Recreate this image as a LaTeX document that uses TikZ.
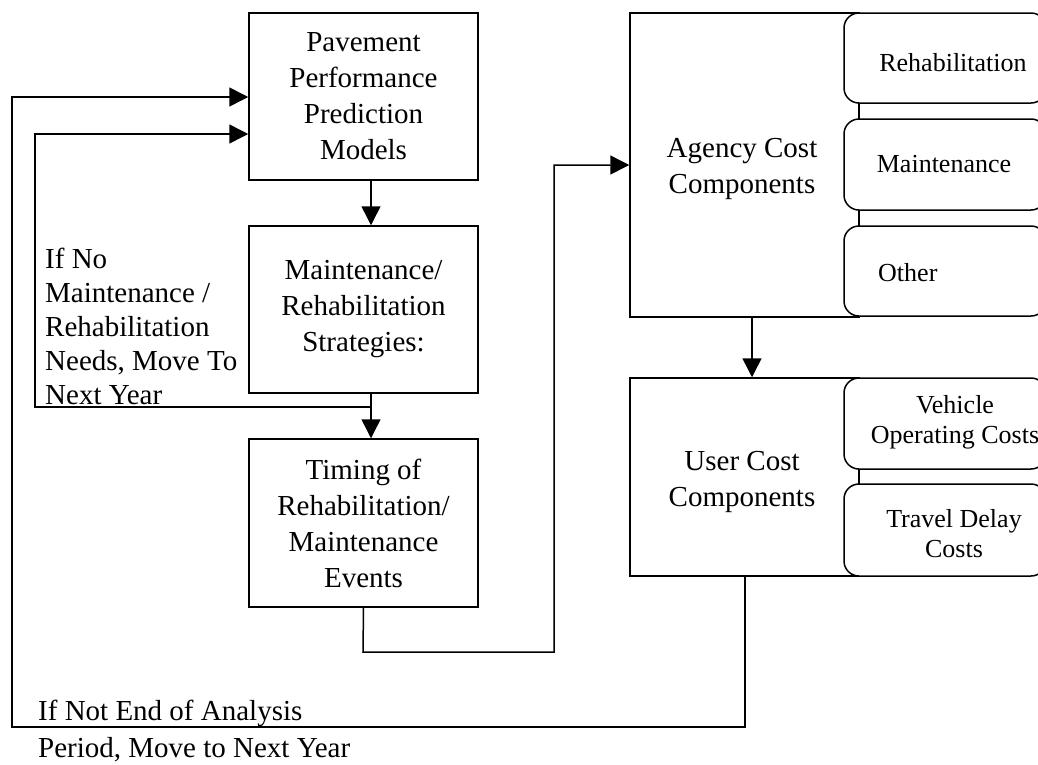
\documentclass[tikz,border=0pt]{standalone}
\usepackage{fontspec}
\setmainfont{Liberation Serif}
\usetikzlibrary{arrows.meta}
\begin{document}
\begin{tikzpicture}[x=1pt,y=-1pt,
  box/.style={draw, line width=1.5pt, fill=white, inner sep=0pt},
  rbox/.style={draw, line width=1.5pt, fill=white, rounded corners=15pt, inner sep=0pt, minimum width=202pt},
  big/.style={font=\fontsize{29}{36}\selectfont, align=center},
  small/.style={font=\fontsize{26}{30}\selectfont, align=center},
  lbl/.style={font=\fontsize{29}{34}\selectfont, align=left, inner sep=0pt},
  conn/.style={line width=1.5pt},
  arr/.style={conn, -{Triangle[length=19pt,width=19pt]}}
]
\useasboundingbox (0,0) rectangle (1038,764);
% left column boxes
\node[box, big, minimum width=229pt, minimum height=167pt] (b1) at (363.5,96.5) {Pavement\\Performance\\Prediction\\Models};
\node[box, big, minimum width=229pt, minimum height=167pt] (b2) at (363.5,309.5) {Maintenance/\\Rehabilitation\\Strategies:};
\node[box, big, minimum width=229pt, minimum height=168pt] (b3) at (363.5,523) {Timing of\\Rehabilitation/\\Maintenance\\Events};
% agency cost
\node[box, minimum width=229pt, minimum height=304pt] (ag) at (744.5,165) {};
\node[big] (agt) at (742,168.5) {Agency Cost\\Components};
\node[rbox, minimum height=90pt] (r1) at (945,58) {};
\node[rbox, minimum height=91pt] (r2) at (945,164.5) {};
\node[rbox, minimum height=90pt] (r3) at (945,271) {};
\node[small] (r1t) at (953,63) {Rehabilitation};
\node[small] (r2t) at (944,164) {Maintenance};
\node[small, anchor=west, inner sep=0pt] (r3t) at (878,273) {Other};
% user cost
\node[box, minimum width=229pt, minimum height=198pt] (us) at (744.5,477) {};
\node[big] (ust) at (742,482) {User Cost\\Components};
\node[rbox, minimum height=91pt] (v1) at (945,423.5) {};
\node[rbox, minimum height=92pt] (v2) at (945,530) {};
\node[small] (v1t) at (955,422) {Vehicle\\Operating Costs};
\node[small] (v2t) at (954,534) {Travel Delay\\Costs};
% labels
\node[lbl, anchor=north west] (l1) at (45,247.5) {If No\\Maintenance /\\Rehabilitation\\Needs, Move To\\Next Year};
\node[lbl, anchor=base west] (l2) at (38,720) {If Not End of Analysis};
\node[lbl, anchor=base west] (l3) at (38,757) {Period, Move to Next Year};
% coordinates
\coordinate (j1) at (371,407);
% connectors
\draw[arr] (b1.south -| j1) -- (b2.north -| j1);
\draw[arr] (b2.south -| j1) -- (b3.north -| j1);
\draw[arr] (j1) -- (35,407) -- (35,134) -- (b1.west |- 0,134);
\draw[arr] (b3.south) -- (363,652) -- (554,652) -- (554,165) -- (ag.west);
\draw[arr] (ag.south -| 752,0) -- (us.north -| 752,0);
\draw[arr] (us.south -| 745,0) -- (745,727) -- (12,727) -- (12,97) -- (b1.west |- 0,97);
\end{tikzpicture}
\end{document}
